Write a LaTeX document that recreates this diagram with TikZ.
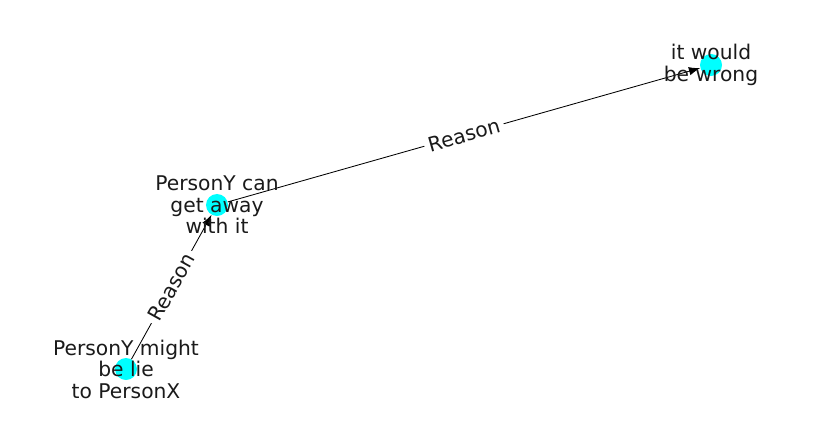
\documentclass[tikz,border=0pt]{standalone}
\usepackage{fontspec}
\setmainfont{DejaVu Sans}
\usetikzlibrary{arrows.meta}
\definecolor{nodecyan}{RGB}{0,255,255}
\definecolor{labelgray}{RGB}{26,26,26}
\tikzset{
  dot/.style={circle, fill=nodecyan, inner sep=0pt, minimum size=0.55cm},
  txt/.style={align=center, text=labelgray, font=\fontsize{14.4}{15.3}\selectfont, inner sep=0pt},
  edge/.style={-{Latex[length=8pt,width=6pt]}, line width=0.6pt},
  elabel/.style={midway, sloped, fill=white, text=labelgray, inner sep=3pt, font=\fontsize{14.4}{15}\selectfont}
}
\begin{document}
\begin{tikzpicture}[x=0.025cm, y=-0.025cm]
  \useasboundingbox (0,0) rectangle (837,434);
  % nodes
  \node[dot] (lie) at (126,369) {};
  \node[dot] (away) at (217,205) {};
  \node[dot] (wrong) at (711,65) {};
  % edges
  \draw[edge] (lie) -- node[elabel] {Reason} (away);
  \draw[edge] (away) -- node[elabel] {Reason} (wrong);
  % labels
  \node[txt] (lietxt) at (lie) {PersonY might\\be lie\\to PersonX};
  \node[txt] (awaytxt) at (away) {PersonY can\\get away\\with it};
  \node[txt] (wrongtxt) at (wrong) {it would\\be wrong};
\end{tikzpicture}
\end{document}
